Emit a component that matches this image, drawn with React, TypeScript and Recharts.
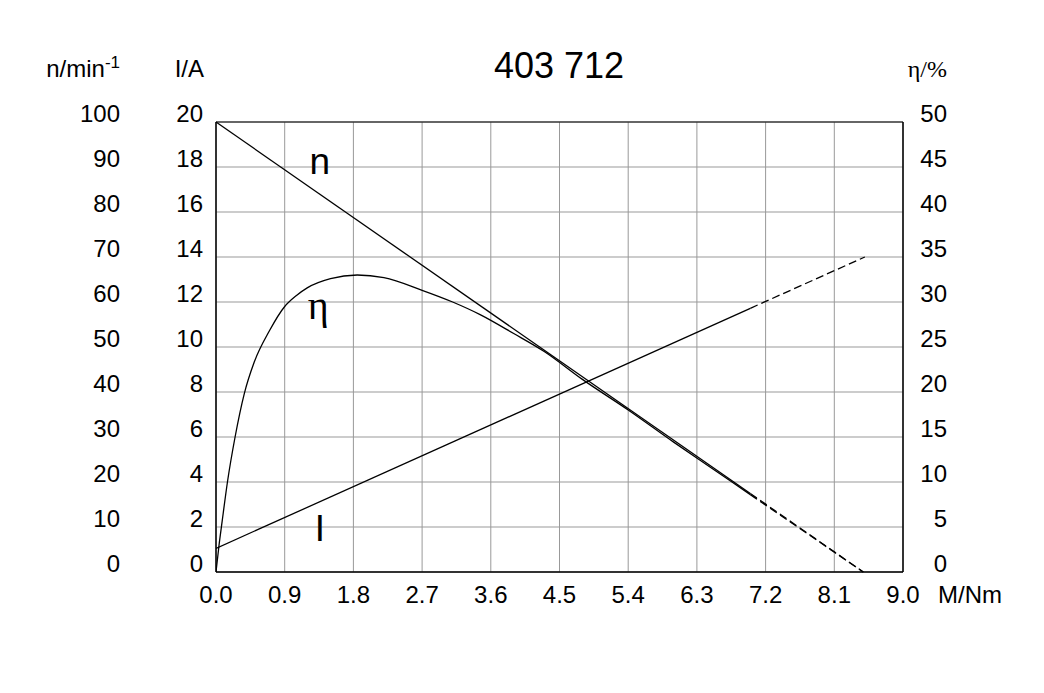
import React from 'react';
import { LineChart, Line, XAxis, YAxis, CartesianGrid, ReferenceArea, ReferenceDot } from 'recharts';

// ---- tick labels ----
const torqueTicks = [0, 0.9, 1.8, 2.7, 3.6, 4.5, 5.4, 6.3, 7.2, 8.1, 9.0];
const speedTicks = [0, 10, 20, 30, 40, 50, 60, 70, 80, 90, 100];
const currentTicks = [0, 2, 4, 6, 8, 10, 12, 14, 16, 18, 20];
const effTicks = [0, 5, 10, 15, 20, 25, 30, 35, 40, 45, 50];

// ---- series (M in Nm) ----
const speedSolid = [
  { M: 0, v: 100 },
  { M: 7.0, v: 17.45 },
];
const speedDashed = [
  { M: 7.0, v: 17.45 },
  { M: 8.48, v: 0 },
];
const currentSolid = [
  { M: 0, v: 1.05 },
  { M: 7.0, v: 11.72 },
];
const currentDashed = [
  { M: 7.0, v: 11.72 },
  { M: 8.5, v: 14.0 },
];
const effTorque = [0, 0.04, 0.08, 0.15, 0.25, 0.37, 0.5, 0.7, 0.9, 1.05, 1.2, 1.5, 1.85, 2.2, 2.7, 3.1, 3.46, 3.9, 4.3, 4.8, 5.4, 6.0, 6.5, 7.0];
const effValues = [0, 3.0, 5.6, 10, 15, 19.8, 23.3, 26.8, 29.5, 30.7, 31.6, 32.6, 33.0, 32.7, 31.3, 30.0, 28.6, 26.5, 24.5, 21.4, 18.0, 14.4, 11.5, 8.6];
const effDashedTorque = [7.0, 8.48];
const effDashedValues = [8.6, 0];

const effSolid = effTorque.map((M, i) => ({ M, v: effValues[i] }));
const effDashed = effDashedTorque.map((M, i) => ({ M, v: effDashedValues[i] }));

const curveLabels = [
  { text: 'n', M: 1.36, v: 88.4, axis: 'n', serif: false },
  { text: 'η', M: 1.34, v: 28.1, axis: 'eta', serif: true },
  { text: 'I', M: 1.36, v: 1.39, axis: 'I', serif: false },
];

const SANS = '"Liberation Sans", Arial, Helvetica, sans-serif';
const SERIF = '"Liberation Serif", "Times New Roman", serif';
const TICK_FS = 24;

const LeftTick = (p: any) => (
  <text x={p.x} y={p.y} textAnchor="end" fontSize={TICK_FS} fontFamily={SANS} fill="#000">
    {p.payload.value}
  </text>
);
const RightTick = (p: any) => (
  <text x={p.x} y={p.y} textAnchor="end" fontSize={TICK_FS} fontFamily={SANS} fill="#000">
    {p.payload.value}
  </text>
);
const BottomTick = (p: any) => (
  <text x={p.x} y={p.y + 31} textAnchor="middle" fontSize={TICK_FS} fontFamily={SANS} fill="#000">
    {Number(p.payload.value).toFixed(1)}
  </text>
);

const makeLabel = (text: string, serif: boolean) => (p: any) => {
  const vb = p.viewBox || {};
  const cx = (vb.x ?? 0) + (vb.width ?? 0) / 2;
  const cy = (vb.y ?? 0) + (vb.height ?? 0) / 2;
  return (
    <text x={cx} y={cy} textAnchor="middle" fontSize={serif ? 40 : 37} fontFamily={serif ? SERIF : SANS} fill="#000">
      {text}
    </text>
  );
};

export default function App() {
  const W = 1036;
  const H = 685;
  return (
    <div style={{ position: 'relative', width: W, height: H }}>
      <LineChart width={W} height={H} margin={{ top: 114, right: 81, bottom: 81, left: 18 }}>
        <XAxis
          type="number"
          dataKey="M"
          domain={[0, 9]}
          ticks={torqueTicks}
          interval={0}
          allowDataOverflow
          height={40}
          tickSize={0}
          tickMargin={0}
          tickLine={false}
          axisLine={{ stroke: '#000' }}
          tick={BottomTick}
        />
        <YAxis
          yAxisId="I"
          orientation="left"
          domain={[0, 20]}
          ticks={currentTicks}
          interval={0}
          width={90}
          tickSize={0}
          tickMargin={13}
          tickLine={false}
          axisLine={{ stroke: '#000' }}
          tick={LeftTick}
        />
        <YAxis
          yAxisId="n"
          orientation="left"
          domain={[0, 100]}
          ticks={speedTicks}
          interval={0}
          width={100}
          tickSize={0}
          tickMargin={6}
          tickLine={false}
          axisLine={false}
          tick={LeftTick}
        />
        <YAxis
          yAxisId="eta"
          orientation="right"
          domain={[0, 50]}
          ticks={effTicks}
          interval={0}
          width={60}
          tickSize={0}
          tickMargin={44}
          tickLine={false}
          axisLine={{ stroke: '#000' }}
          tick={RightTick}
        />
        <CartesianGrid yAxisId="n" stroke="#999" strokeWidth={1} />
        <ReferenceArea yAxisId="n" x1={0} x2={9} y1={0} y2={100} fill="none" stroke="#000" strokeWidth={1} ifOverflow="visible" />
        <Line yAxisId="n" data={speedSolid} dataKey="v" type="linear" stroke="#000" strokeWidth={1.3} dot={false} isAnimationActive={false} />
        <Line yAxisId="n" data={speedDashed} dataKey="v" type="linear" stroke="#000" strokeWidth={1.3} strokeDasharray="8 4" dot={false} isAnimationActive={false} />
        <Line yAxisId="I" data={currentSolid} dataKey="v" type="linear" stroke="#000" strokeWidth={1.3} dot={false} isAnimationActive={false} />
        <Line yAxisId="I" data={currentDashed} dataKey="v" type="linear" stroke="#000" strokeWidth={1.3} strokeDasharray="8 4" dot={false} isAnimationActive={false} />
        <Line yAxisId="eta" data={effSolid} dataKey="v" type="monotone" stroke="#000" strokeWidth={1.3} dot={false} isAnimationActive={false} />
        <Line yAxisId="eta" data={effDashed} dataKey="v" type="linear" stroke="#000" strokeWidth={1.3} strokeDasharray="8 4" dot={false} isAnimationActive={false} />
        {curveLabels.map((l) => (
          <ReferenceDot
            key={l.text}
            yAxisId={l.axis}
            x={l.M}
            y={l.v}
            r={1}
            fill="none"
            stroke="none"
            ifOverflow="visible"
            label={{ content: makeLabel(l.text, l.serif) }}
          />
        ))}
      </LineChart>
      <svg width={W} height={H} style={{ position: 'absolute', left: 0, top: 0, pointerEvents: 'none' }}>
        <text x={551} y={70} textAnchor="middle" fontSize={36} fontFamily={SANS} fill="#000">403 712</text>
        <text x={112} y={69} textAnchor="end" fontSize={24} fontFamily={SANS} fill="#000">
          n/min<tspan dy={-9} fontSize={17}>-1</tspan>
        </text>
        <text x={196} y={69} textAnchor="end" fontSize={24} fontFamily={SANS} fill="#000">I/A</text>
        <text x={939} y={69} textAnchor="end" fontSize={24} fontFamily={SERIF} fill="#000">η/%</text>
        <text x={930} y={595} textAnchor="start" fontSize={24} fontFamily={SANS} fill="#000">M/Nm</text>
      </svg>
    </div>
  );
}
